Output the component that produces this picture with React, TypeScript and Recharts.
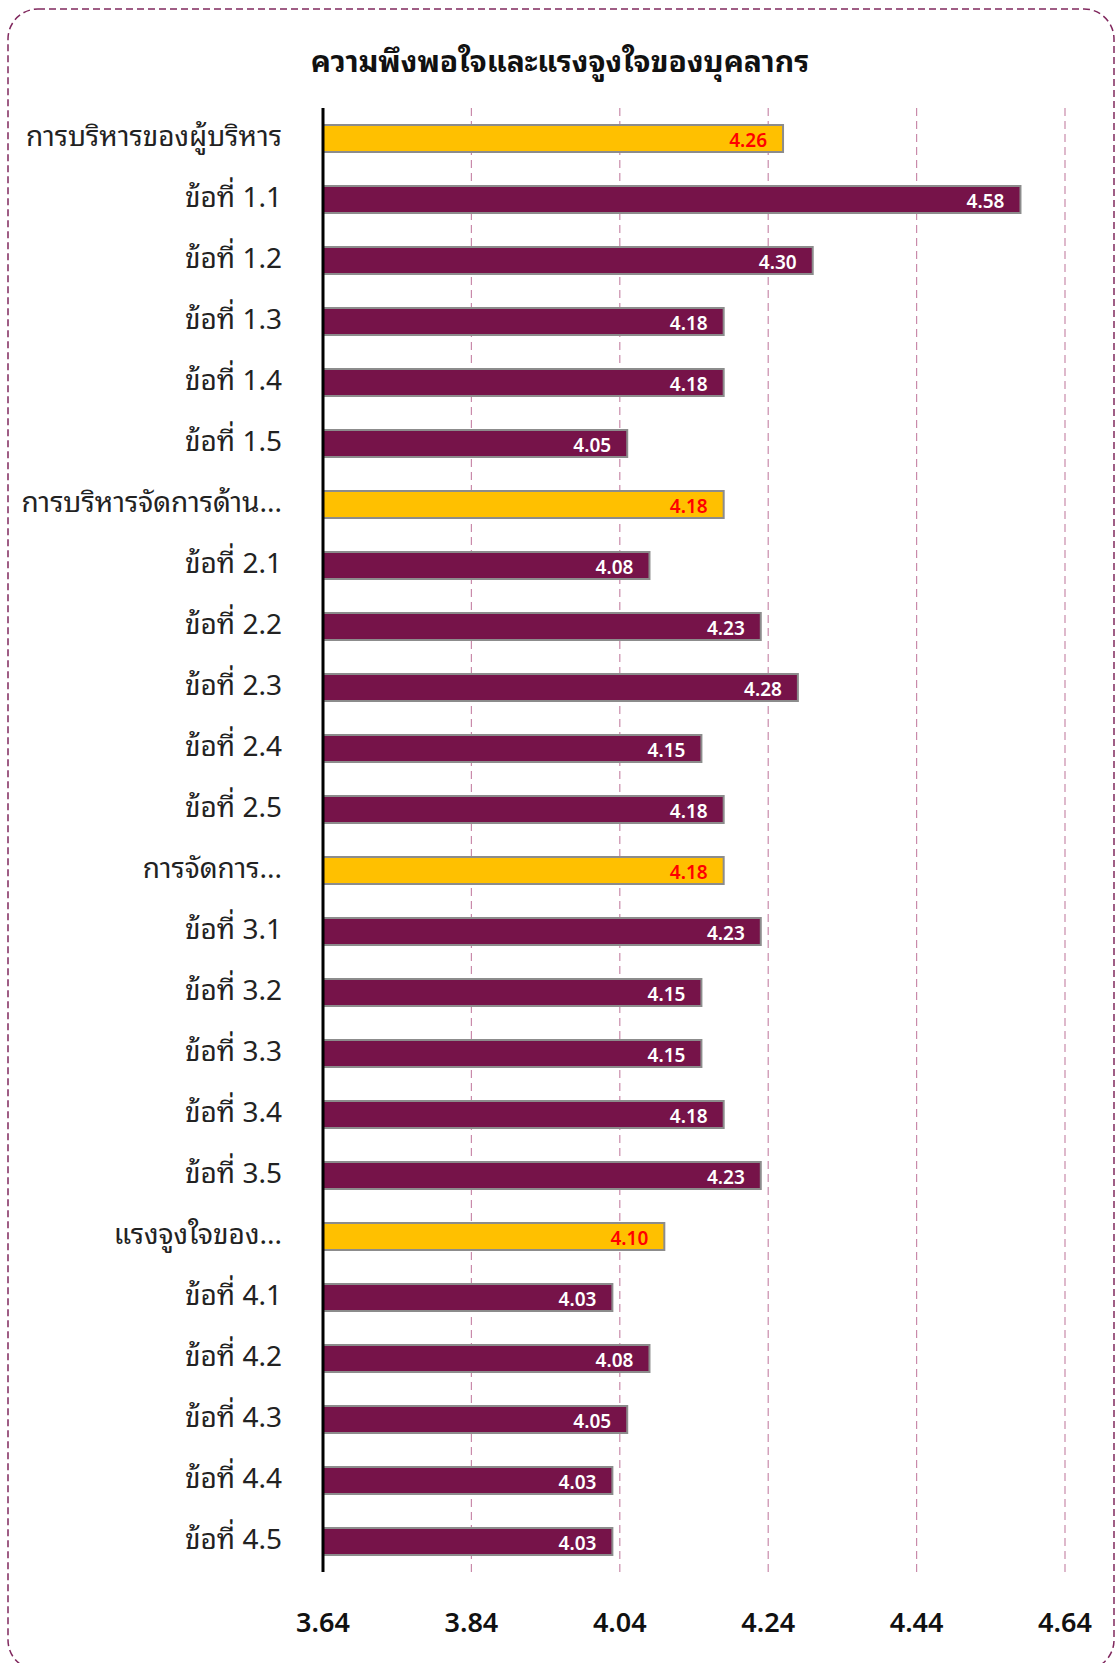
import React from 'react'
import { BarChart, Bar, XAxis, YAxis, CartesianGrid, Cell, LabelList } from 'recharts'

const categories = [
  'การบริหารของผู้บริหาร',
  'ข้อที่ 1.1', 'ข้อที่ 1.2', 'ข้อที่ 1.3', 'ข้อที่ 1.4', 'ข้อที่ 1.5',
  'การบริหารจัดการด้าน...',
  'ข้อที่ 2.1', 'ข้อที่ 2.2', 'ข้อที่ 2.3', 'ข้อที่ 2.4', 'ข้อที่ 2.5',
  'การจัดการ...',
  'ข้อที่ 3.1', 'ข้อที่ 3.2', 'ข้อที่ 3.3', 'ข้อที่ 3.4', 'ข้อที่ 3.5',
  'แรงจูงใจของ...',
  'ข้อที่ 4.1', 'ข้อที่ 4.2', 'ข้อที่ 4.3', 'ข้อที่ 4.4', 'ข้อที่ 4.5',
]

const scores = [
  4.26,
  4.58, 4.30, 4.18, 4.18, 4.05,
  4.18,
  4.08, 4.23, 4.28, 4.15, 4.18,
  4.18,
  4.23, 4.15, 4.15, 4.18, 4.23,
  4.10,
  4.03, 4.08, 4.05, 4.03, 4.03,
]

// หัวข้อหลัก (แถบสีเหลือง)
const isGroup = [
  true,
  false, false, false, false, false,
  true,
  false, false, false, false, false,
  true,
  false, false, false, false, false,
  true,
  false, false, false, false, false,
]

const xTicks = [3.64, 3.84, 4.04, 4.24, 4.44, 4.64]

const TITLE = 'ความพึงพอใจและแรงจูงใจของบุคลากร'

const MAROON = '#761349'
const GOLD = '#FFC000'
const THAI_FONT = '"Noto Sans Thai Looped", "Noto Serif Thai", "Noto Sans Thai", Tahoma, "Noto Sans", sans-serif'

const data = categories.map((name, i) => ({ name, score: scores[i], group: isGroup[i] }))

const YTick = ({ x, y, payload }: any) => (
  <text x={x} y={y} dy={7} textAnchor="end" fontSize={28} fill="#222" fontFamily={THAI_FONT}>
    {payload.value}
  </text>
)

const XTick = ({ x, y, payload }: any) => (
  <text x={x} y={y} dy={52} textAnchor="middle" fontSize={27} fontWeight={600} fill="#111" fontFamily='"Noto Sans", sans-serif'>
    {payload.value.toFixed(2)}
  </text>
)

const ValueLabel = ({ x, y, width, height, value, index }: any) => (
  <text
    x={x + width - 16}
    y={y + height / 2}
    dy={8}
    textAnchor="end"
    fontSize={19}
    fontWeight={600}
    fill={isGroup[index] ? '#FF0000' : '#fff'}
    fontFamily='"Noto Sans", sans-serif'
  >
    {Number(value).toFixed(2)}
  </text>
)

export default function App() {
  return (
    <div style={{ position: 'absolute', left: 0, top: 0, width: 1115, height: 1663, background: '#fff', overflow: 'hidden' }}>
      {/* กรอบเส้นประ */}
      <svg width={1115} height={1663} style={{ position: 'absolute', left: 0, top: 0 }}>
        <rect x={8} y={9} width={1106} height={1661} rx={30} ry={30} fill="none" stroke="#80285E" strokeWidth={1.5} strokeDasharray="7 4" />
      </svg>
      <div style={{
        position: 'absolute', left: 0, top: 34, width: 1120, textAlign: 'center',
        fontFamily: THAI_FONT, fontWeight: 700, fontSize: 30, color: '#111',
      }}>
        {TITLE}
      </div>
      <div style={{ position: 'absolute', left: 0, top: 0 }}>
        <BarChart
          width={1115}
          height={1663}
          data={data}
          layout="vertical"
          margin={{ top: 108, right: 50, left: 0, bottom: 0 }}
          barCategoryGap={0}
        >
          <CartesianGrid horizontal={false} stroke="#C98AAA" strokeDasharray="8 5" strokeWidth={1.2} />
          <XAxis
            type="number"
            domain={[3.64, 4.64]}
            ticks={xTicks}
            allowDataOverflow
            axisLine={false}
            tickLine={false}
            height={91}
            tick={<XTick />}
          />
          <YAxis
            type="category"
            dataKey="name"
            width={323}
            axisLine={{ stroke: '#000', strokeWidth: 3 }}
            tickLine={false}
            tickSize={0}
            tickMargin={41}
            interval={0}
            tick={<YTick />}
          />
          <Bar dataKey="score" barSize={27} stroke="#8C8C8C" strokeWidth={2} isAnimationActive={false}>
            {data.map((d, i) => (
              <Cell key={i} fill={d.group ? GOLD : MAROON} />
            ))}
            <LabelList dataKey="score" content={<ValueLabel />} />
          </Bar>
        </BarChart>
      </div>
    </div>
  )
}
